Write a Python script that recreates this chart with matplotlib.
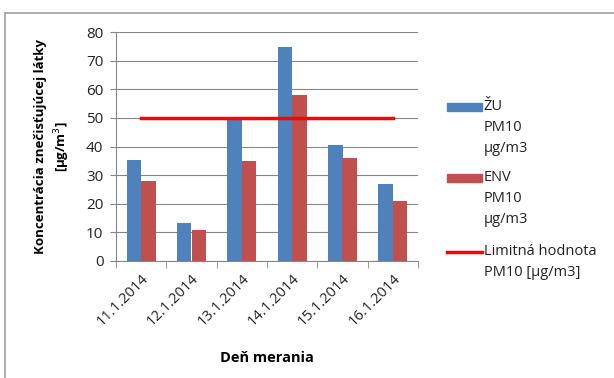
import matplotlib
matplotlib.use("Agg")
import matplotlib.pyplot as plt
from matplotlib.patches import Rectangle
from matplotlib.lines import Line2D
import numpy as np

plt.rcParams['font.family'] = ['Open Sans', 'DejaVu Sans']

categories = ["11.1.2014", "12.1.2014", "13.1.2014", "14.1.2014", "15.1.2014", "16.1.2014"]
zu_pm10 = [35.2, 13.4, 49.8, 74.7, 40.5, 27.0]
env_pm10 = [28.0, 11.0, 34.9, 57.9, 36.0, 21.0]
limit_pm10 = [50, 50, 50, 50, 50, 50]
yticks = [0, 10, 20, 30, 40, 50, 60, 70, 80]
legend_labels = ["ŽU\nPM10\nµg/m3", "ENV\nPM10\nµg/m3", "Limitná hodnota\nPM10 [µg/m3]"]

blue = "#4F81BD"
red = "#C0504D"
limit_c = "#FF0000"
grid_c = "#868686"

W, H = 614, 378
fig = plt.figure(figsize=(W/100, H/100), dpi=100)
ax = fig.add_axes([116/W, 1-261/H, (418-116)/W, (261-32)/H])

x = np.arange(len(categories))
w = 0.29
ax.bar(x - w/2, zu_pm10, width=w, color=blue, zorder=2)
ax.bar(x + w/2, env_pm10, width=w, color=red, zorder=2)
ax.plot(x, limit_pm10, color=limit_c, lw=2.5, zorder=3)

ax.set_xlim(-0.5, len(categories) - 0.5)
ax.set_ylim(0, 80)
ax.set_yticks(yticks)
ax.yaxis.grid(True, color=grid_c, lw=0.8, zorder=0)
ax.set_axisbelow(True)
for s in ["top", "right"]:
    ax.spines[s].set_visible(False)
for s in ["left", "bottom"]:
    ax.spines[s].set_color(grid_c)
ax.tick_params(axis="y", colors=grid_c, labelcolor="#222222", labelsize=11, length=4, direction="out", pad=5)
ax.set_xticks(x)
ax.set_xticklabels(categories, rotation=45, ha="right", rotation_mode="anchor", fontsize=10.5, color="#222222")
ax.tick_params(axis="x", length=0, pad=7)
ax.set_xticks(np.arange(len(categories) + 1) - 0.5, minor=True)
ax.tick_params(axis="x", which="minor", length=5, colors=grid_c)

ax.set_ylabel("Koncentrácia znečisťujúcej látky\n[µg/m$^3$]", fontsize=9.5, fontweight="bold", labelpad=10, linespacing=1.4)
ax.set_xlabel("Deň merania", fontsize=10.5, fontweight="bold", labelpad=16)

# manual legend: handle aligned with first text line (as in the reference)
def fx(px):
    return px / W
def fy(py):
    return 1 - py / H

text_x = 484
handle_x0, handle_x1 = 447, 482
entries = [("patch", blue, 107), ("patch", red, 178), ("line", limit_c, 252)]
for (kind, col, ytop), lab in zip(entries, legend_labels):
    if kind == "patch":
        fig.add_artist(Rectangle((fx(handle_x0), fy(ytop + 4)), fx(handle_x1) - fx(handle_x0), 8 / H,
                                 transform=fig.transFigure, color=col))
    else:
        fig.add_artist(Line2D([fx(handle_x0), fx(handle_x1)], [fy(ytop), fy(ytop)],
                              transform=fig.transFigure, color=col, lw=2.5))
    fig.text(fx(text_x), fy(ytop - 8), lab, fontsize=10.5, va="top", ha="left",
             linespacing=1.55, color="#222222")

# chart area frame (left and top edges visible)
fig.add_artist(Line2D([fx(5), fx(5)], [0, fy(13)], transform=fig.transFigure, color="#A0A0A0", lw=1.2))
fig.add_artist(Line2D([fx(5), 1], [fy(13), fy(13)], transform=fig.transFigure, color="#A0A0A0", lw=1.2))

fig.savefig("out.png", dpi=100)
